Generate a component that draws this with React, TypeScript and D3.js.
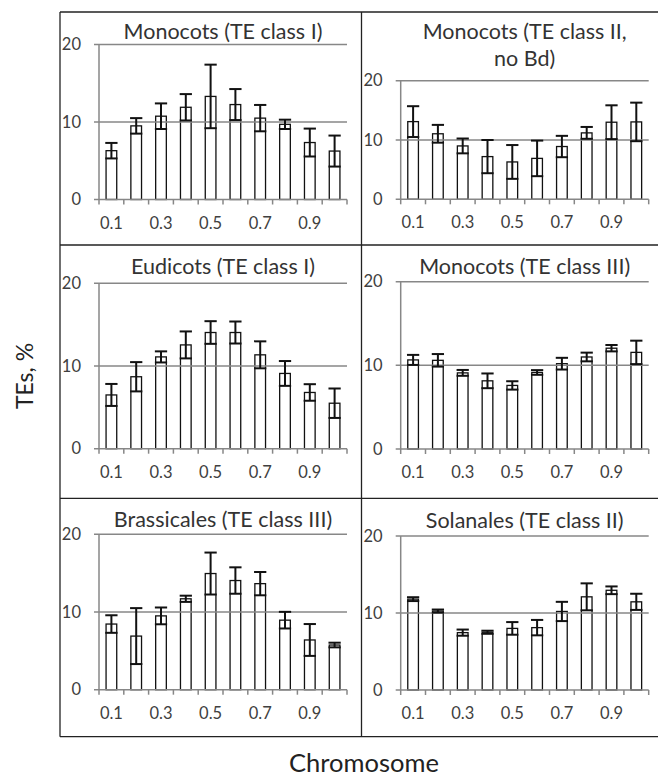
import * as d3 from 'd3';

// chromosome position bins
const categories = ['0.1', '0.2', '0.3', '0.4', '0.5', '0.6', '0.7', '0.8', '0.9', '1.0'];
const xTickLabels = ['0.1', '0.3', '0.5', '0.7', '0.9'];
const yTicks = [0, 10, 20];

// TE share per bin (%) and error bar half-widths
const monocotsI = [6.3, 9.5, 10.75, 11.9, 13.3, 12.25, 10.5, 9.7, 7.35, 6.25];
const monocotsIErr = [1.0, 1.0, 1.65, 1.7, 4.1, 2.0, 1.7, 0.6, 1.8, 2.0];

const monocotsII = [13.1, 11.05, 9.0, 7.2, 6.3, 6.9, 8.9, 11.2, 13.0, 13.05];
const monocotsIIErr = [2.6, 1.5, 1.25, 2.8, 2.85, 3.0, 1.8, 1.0, 2.85, 3.25];

const eudicotsI = [6.5, 8.7, 11.1, 12.55, 14.05, 14.05, 11.35, 9.1, 6.8, 5.5];
const eudicotsIErr = [1.33, 1.77, 0.67, 1.63, 1.37, 1.33, 1.63, 1.5, 1.0, 1.78];

const monocotsIII = [10.65, 10.6, 9.1, 8.15, 7.6, 9.15, 10.2, 11.0, 12.05, 11.55];
const monocotsIIIErr = [0.6, 0.75, 0.35, 0.88, 0.5, 0.28, 0.7, 0.52, 0.38, 1.4];

const brassicalesIII = [8.45, 6.9, 9.5, 11.7, 14.95, 14.05, 13.65, 8.95, 6.4, 5.75];
const brassicalesIIIErr = [1.13, 3.6, 1.08, 0.4, 2.7, 1.7, 1.5, 1.07, 2.05, 0.3];

const solanalesII = [11.8, 10.25, 7.45, 7.5, 8.0, 8.1, 10.2, 12.1, 12.95, 11.45];
const solanalesIIErr = [0.25, 0.2, 0.4, 0.2, 0.82, 1.0, 1.25, 1.75, 0.5, 1.05];

const FONT = 'Lato, "Open Sans", sans-serif';
const AXIS = '#878787';

type Panel = {
  title: string[];
  values: number[];
  errors: number[];
  x0: number;
  x1: number;
  yTop: number;
  yBottom: number;
  titleY: number;
};

const panels: Panel[] = [
  { title: ['Monocots (TE class I)'], values: monocotsI, errors: monocotsIErr, x0: 99, x1: 347, yTop: 44.5, yBottom: 199.5, titleY: 39 },
  { title: ['Monocots (TE class II,', 'no Bd)'], values: monocotsII, errors: monocotsIIErr, x0: 400.7, x1: 648.7, yTop: 80.7, yBottom: 199.3, titleY: 39 },
  { title: ['Eudicots (TE class I)'], values: eudicotsI, errors: eudicotsIErr, x0: 99, x1: 347, yTop: 283.3, yBottom: 448.7, titleY: 274 },
  { title: ['Monocots (TE class III)'], values: monocotsIII, errors: monocotsIIIErr, x0: 400.7, x1: 648.7, yTop: 281.7, yBottom: 449, titleY: 274 },
  { title: ['Brassicales (TE class III)'], values: brassicalesIII, errors: brassicalesIIIErr, x0: 99, x1: 347, yTop: 534.3, yBottom: 689.7, titleY: 527 },
  { title: ['Solanales (TE class II)'], values: solanalesII, errors: solanalesIIErr, x0: 400.7, x1: 648.7, yTop: 536, yBottom: 690, titleY: 528 },
];

function BarPanel({ p }: { p: Panel }) {
  const x = d3.scaleBand<string>()
    .domain(categories)
    .range([p.x0, p.x1])
    .paddingInner(0.57)
    .paddingOuter(0.285);
  const y = d3.scaleLinear().domain([0, 20]).range([p.yBottom, p.yTop]);
  const step = x.step();
  const bw = x.bandwidth();
  const cap = bw + 1.6;
  const cx = (c: string) => (x(c) as number) + bw / 2;

  return (
    <g>
      {p.title.map((t, i) => (
        <text key={t} x={(p.x0 + p.x1) / 2} y={p.titleY + i * 27} textAnchor="middle"
          fontSize={21.5} fill="#333" fontFamily={FONT}>{t}</text>
      ))}

      {/* bars */}
      {categories.map((c, i) => (
        <rect key={c} x={x(c)} y={y(p.values[i])} width={bw} height={y(0) - y(p.values[i])}
          fill="none" stroke="#111" strokeWidth={1.3} />
      ))}

      {/* grid + axes */}
      {yTicks.map(t => (
        <g key={t}>
          <line x1={p.x0 - 5} x2={p.x1} y1={y(t)} y2={y(t)} stroke={AXIS} strokeWidth={1.5} />
          <text x={p.x0 - 18} y={y(t)} dy="0.35em" textAnchor="end" fontSize={16.5}
            fill="#404040" fontFamily={FONT}>{t}</text>
        </g>
      ))}
      <line x1={p.x0} x2={p.x0} y1={p.yTop} y2={p.yBottom} stroke={AXIS} strokeWidth={1.5} />
      {d3.range(categories.length + 1).map(i => (
        <line key={i} x1={p.x0 + i * step} x2={p.x0 + i * step} y1={p.yBottom} y2={p.yBottom + 5}
          stroke={AXIS} strokeWidth={1.5} />
      ))}
      {xTickLabels.map(l => (
        <text key={l} x={cx(l)} y={p.yBottom + 29} textAnchor="middle" fontSize={16.5}
          fill="#404040" fontFamily={FONT}>{l}</text>
      ))}

      {/* error bars */}
      {categories.map((c, i) => {
        const hi = y(p.values[i] + p.errors[i]);
        const lo = y(p.values[i] - p.errors[i]);
        const m = cx(c);
        return (
          <g key={c} stroke="#111" strokeWidth={2}>
            <line x1={m} x2={m} y1={hi} y2={lo} />
            <line x1={m - cap / 2} x2={m + cap / 2} y1={hi} y2={hi} />
            <line x1={m - cap / 2} x2={m + cap / 2} y1={lo} y2={lo} />
          </g>
        );
      })}
    </g>
  );
}

export default function App() {
  const W = 658;
  const H = 779;
  return (
    <svg width={W} height={H} style={{ position: 'absolute', left: 0, top: 0, background: '#fff' }}>
      <rect width={W} height={H} fill="#fff" />
      {/* frame */}
      <g stroke="#222" strokeWidth={1.3} fill="none">
        <line x1={60} x2={658} y1={12} y2={12} />
        <line x1={60} x2={658} y1={245} y2={245} />
        <line x1={60} x2={658} y1={498.3} y2={498.3} />
        <line x1={60} x2={658} y1={736.7} y2={736.7} />
        <line x1={60} x2={60} y1={12} y2={736.7} />
        <line x1={361.5} x2={361.5} y1={12} y2={736.7} />
      </g>
      {panels.map((p, i) => <BarPanel key={i} p={p} />)}
      <text transform="translate(33,376) rotate(-90)" textAnchor="middle" fontSize={23}
        fill="#222" fontFamily={FONT}>TEs, %</text>
      <text x={364} y={772} textAnchor="middle" fontSize={25.5} fill="#222" fontFamily={FONT}>Chromosome</text>
    </svg>
  );
}
